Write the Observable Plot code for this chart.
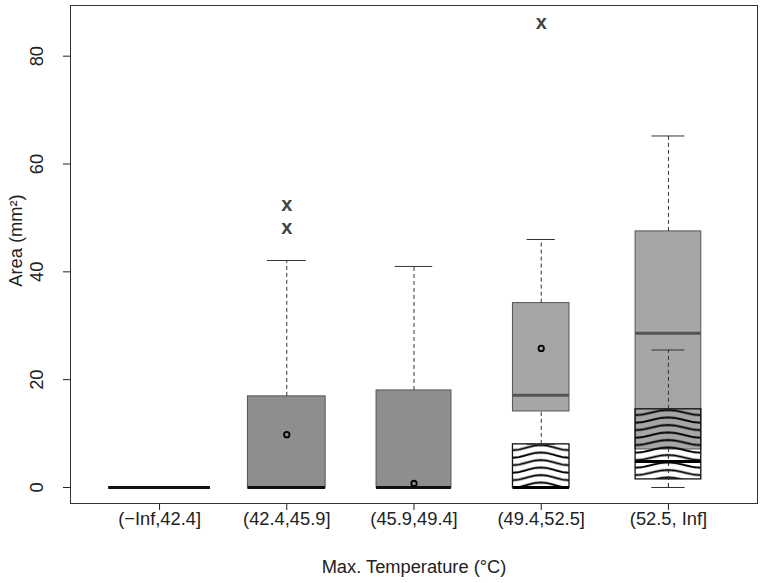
<!DOCTYPE html>
<html><head><meta charset="utf-8">
<script src="https://cdn.jsdelivr.net/npm/d3@7"></script>
<script src="https://cdn.jsdelivr.net/npm/@observablehq/plot@0.6"></script>
<style>
body{margin:0;background:#fff;}
#chart svg{font-family:"Liberation Sans",Arial,sans-serif;}
</style>
</head><body><div id="chart"></div>
<script>
// ---- data ----
const categories = ["(\u2212Inf,42.4]", "(42.4,45.9]", "(45.9,49.4]", "(49.4,52.5]", "(52.5, Inf]"];
const sampleSize = [120, 70, 65, 37, 50];           // box widths follow sqrt(n)
// grey boxes (all observations)
const grayQ1     = [0, 0, 0, 14.1, 7.05];
const grayMedian = [0, 0, 0, 17.1, 28.6];
const grayQ3     = [0, 16.9, 18.0, 34.2, 47.5];
const grayLow    = [0, 0, 0, 8, 0];
const grayHigh   = [0, 42.1, 41.0, 46.0, 65.2];
const grayMean   = [null, 9.8, 0.75, 25.8, null];
// outliers
const outlierGroup = [2, 2, 4];
const outlierValue = [48.1, 52.2, 86.1];
// hatched (wavy) boxes
const hatchGroup  = [4, 5];
const hatchQ1     = [0, 1.5];
const hatchMedian = [0, 4.8];
const hatchQ3     = [8, 14.5];
const hatchLow    = [0, 0];
const hatchHigh   = [8, 25.5];
const yTicks = [0, 20, 40, 60, 80];

// ---- build tables ----
const maxN = d3.max(sampleSize);
const halfW = i => 0.4 * Math.sqrt(sampleSize[i] / maxN);
const gray = categories.map((c, i) => ({
  pos: i + 1, half: halfW(i), q1: grayQ1[i], med: grayMedian[i], q3: grayQ3[i],
  lo: grayLow[i], hi: grayHigh[i], mean: grayMean[i]
}));
const hatch = hatchGroup.map((g, j) => ({
  pos: g, half: halfW(g - 1), q1: hatchQ1[j], med: hatchMedian[j], q3: hatchQ3[j],
  lo: hatchLow[j], hi: hatchHigh[j]
}));
const outliers = outlierGroup.map((g, k) => ({pos: g, value: outlierValue[k]}));
const all = gray.concat(hatch);

const x1 = d => d.pos - d.half, x2 = d => d.pos + d.half;
const c1 = d => d.pos - d.half / 2, c2 = d => d.pos + d.half / 2;
const FS = 18.3;

const chart = Plot.plot({
  width: 764, height: 583,
  marginLeft: 70, marginRight: 7, marginTop: 5, marginBottom: 80,
  style: {fontSize: FS + "px", fontFamily: "'Liberation Sans', Arial, sans-serif", color: "#222", background: "#fff"},
  x: {type: "linear", domain: [0.3, 5.7]},
  y: {domain: [-2.97, 89.4]},
  marks: [
    // grey boxes
    Plot.rect(gray.filter(d => d.q3 > d.q1 && d.pos <= 3), {x1, x2, y1: "q1", y2: "q3", fill: "#8e8e8e", stroke: "#555", strokeWidth: 1}),
    Plot.rect(gray.filter(d => d.q3 > d.q1 && d.pos > 3), {x1, x2, y1: "q1", y2: "q3", fill: "#a6a6a6", stroke: "#555", strokeWidth: 1}),
    // hatched boxes
    ...hatch.map(h => Plot.rect([h], {x1, x2, y1: "q1", y2: "q3", fill: `url(#wave${h.pos})`, stroke: "#111", strokeWidth: 1.3})),
    // whiskers
    Plot.ruleX(all.filter(d => d.hi > d.q3), {x: "pos", y1: "q3", y2: "hi", stroke: "#333", strokeDasharray: "4,3"}),
    Plot.ruleX(all.filter(d => d.lo < d.q1), {x: "pos", y1: "lo", y2: "q1", stroke: "#333", strokeDasharray: "4,3"}),
    Plot.ruleY(all.filter(d => d.hi > d.q3), {y: "hi", x1: c1, x2: c2, stroke: "#333", strokeWidth: 1}),
    Plot.ruleY(all.filter(d => d.lo < d.q1), {y: "lo", x1: c1, x2: c2, stroke: "#333", strokeWidth: 1}),
    // medians
    Plot.ruleY(gray.filter(d => d.pos <= 3), {y: "med", x1, x2, stroke: "#111", strokeWidth: 3}),
    Plot.ruleY(gray.filter(d => d.pos > 3), {y: "med", x1, x2, stroke: "#555", strokeWidth: 3}),
    Plot.ruleY(hatch, {y: "med", x1, x2, stroke: "#000", strokeWidth: 3}),
    // means
    Plot.dot(gray.filter(d => d.mean != null), {x: "pos", y: "mean", r: 2.7, stroke: "#000", strokeWidth: 1.8, fill: "none"}),
    // outliers
    Plot.text(outliers, {x: "pos", y: "value", text: () => "x", fontWeight: "bold", fontSize: 20, fill: "#444", dy: -1}),
    // frame & axes
    Plot.frame({stroke: "#333"}),
    Plot.axisX({ticks: [1, 2, 3, 4, 5], tickSize: 7, tickPadding: 1, tickFormat: i => categories[i - 1], label: null, fontSize: FS, fill: "#222"}),
    Plot.axisY({ticks: yTicks, tickSize: 7, tickFormat: () => "", label: null}),
    Plot.text(yTicks, {y: d => d, text: d => String(d), frameAnchor: "left", textAnchor: "middle", lineAnchor: "middle", dx: -33.5, rotate: -90, fontSize: FS, fill: "#222"}),
    Plot.text(["Area (mm\u00b2)"], {text: d => d, frameAnchor: "left", textAnchor: "middle", lineAnchor: "middle", dx: -54.5, dy: -14, rotate: -90, fontSize: FS, fill: "#222"}),
    Plot.text(["Max. Temperature (\u00b0C)"], {text: d => d, frameAnchor: "bottom", textAnchor: "middle", lineAnchor: "middle", dy: 64, fontSize: FS, fill: "#222"})
  ]
});

// wavy fill patterns aligned on each hatched box
const xs = chart.scale("x"), ys = chart.scale("y");
const NS = "http://www.w3.org/2000/svg";
const defs = document.createElementNS(NS, "defs");
const tileH = 7.5, amp = 2.5;
for (const h of hatch) {
  const left = xs.apply(h.pos - h.half);
  const w = xs.apply(h.pos + h.half) - left;
  const top = ys.apply(h.q3);
  const p = document.createElementNS(NS, "pattern");
  p.setAttribute("id", "wave" + h.pos);
  p.setAttribute("patternUnits", "userSpaceOnUse");
  p.setAttribute("x", left); p.setAttribute("y", top);
  p.setAttribute("width", w); p.setAttribute("height", tileH);
  let d = "";
  for (let k = 0; k <= 40; k++) {
    const px = w * k / 40;
    const py = tileH / 2 - amp * Math.cos(2 * Math.PI * (px - w / 2) / w);
    d += (k ? "L" : "M") + px.toFixed(2) + "," + py.toFixed(2);
  }
  const path = document.createElementNS(NS, "path");
  path.setAttribute("d", d);
  path.setAttribute("fill", "none");
  path.setAttribute("stroke", "#000");
  path.setAttribute("stroke-width", "1.9");
  p.appendChild(path);
  defs.appendChild(p);
}
chart.insertBefore(defs, chart.firstChild);
document.getElementById("chart").appendChild(chart);
</script>
</body></html>
